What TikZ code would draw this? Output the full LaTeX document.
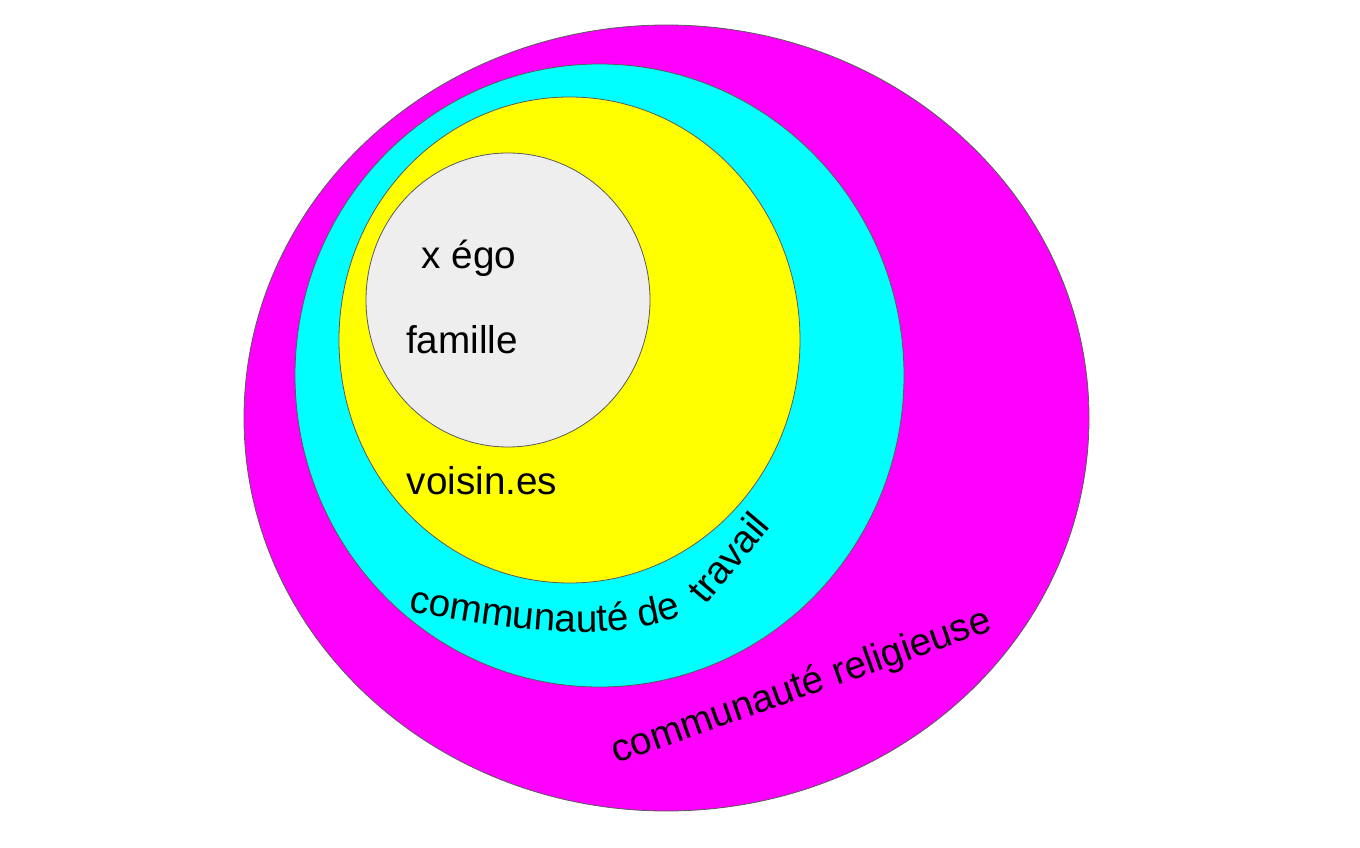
\documentclass[tikz,border=0pt]{standalone}
\usepackage{fontspec}
\setmainfont{Liberation Sans}
\usetikzlibrary{decorations.text}
\newcommand\circlefont{\fontsize{29}{34}\selectfont}
\definecolor{religionfill}{RGB}{255,0,255}
\definecolor{travailfill}{RGB}{0,255,255}
\definecolor{voisinfill}{RGB}{255,255,0}
\definecolor{egofill}{RGB}{238,238,238}
\definecolor{rimgray}{RGB}{90,90,90}

\begin{document}
\begin{tikzpicture}
		[x=0.75pt, y=-0.75pt,
		zone/.style ={draw=rimgray, line width=0.6pt},
		word/.style ={font=\circlefont, anchor=base, inner sep=0pt}]
		\useasboundingbox (0,0) rectangle (1360,848);

		% circles, outer to inner
		\draw[zone, fill=religionfill] (666.5,418) ellipse [x radius=422.5, y radius=393];
		\draw[zone, fill=travailfill] (599.5,375.5) ellipse [x radius=304.5, y radius=311.5];
		\draw[zone, fill=voisinfill] (569.5,340) ellipse [x radius=230.5, y radius=243];
		\draw[zone, fill=egofill] (508,300) ellipse [x radius=142, y radius=147];

		\node[word] (ego) at (469,269) {x égo};
		\node[word] (famille) at (462,354) {famille};
		\node[word] (voisins) at (482,494) {voisin.es};

		\path[decorate, decoration={text along path,
			text={|\circlefont|communauté de}}]
		(408,611) .. controls (520,632) and (620,645) .. (694,611);
		\node[word, anchor=base west, rotate=50] (travail) at (705,606) {travail};

		\node[word, rotate=19.5] (religion) at (805,697) {communauté religieuse};

	\end{tikzpicture}
\end{document}
